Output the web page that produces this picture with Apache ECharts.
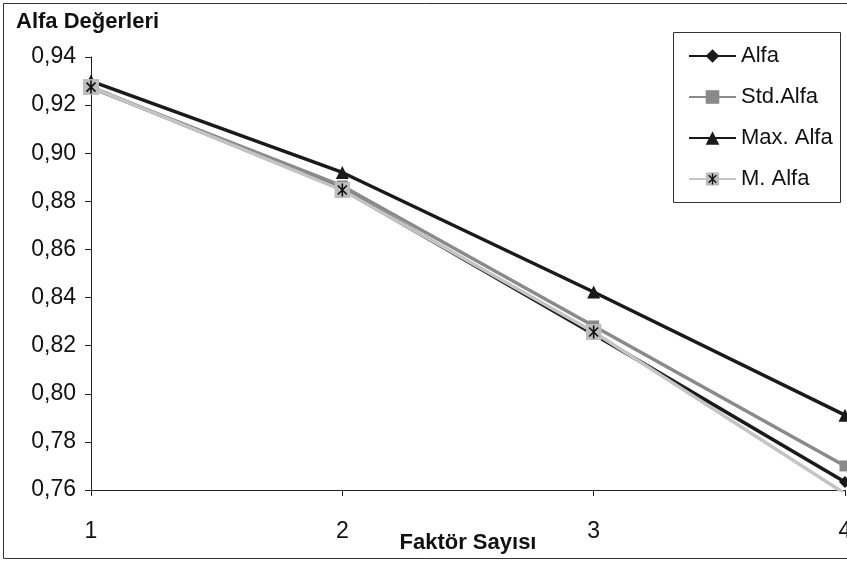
<!DOCTYPE html>
<html>
<head>
<meta charset="utf-8">
<script src="https://cdn.jsdelivr.net/npm/echarts@6/dist/echarts.min.js"></script>
<style>
  html, body { margin: 0; padding: 0; background: #fff; }
  #chart { width: 847px; height: 562px; }
</style>
</head>
<body>
<div id="chart"></div>
<script>
// Number of factors and the reliability values for each method
const factorCounts = ['1', '2', '3', '4'];
const alfa    = [0.9275, 0.8850, 0.8248, 0.7633];
const stdAlfa = [0.9272, 0.8864, 0.8282, 0.7700];
const maxAlfa = [0.9300, 0.8920, 0.8423, 0.7911];
const mAlfa   = [0.9275, 0.8847, 0.8257, 0.7585];
const seriesNames = ['Alfa', 'Std.Alfa', 'Max. Alfa', 'M. Alfa'];

const yMin = 0.76, yMax = 0.94, yStep = 0.02;

const FONT = '"Liberation Sans", Arial, Helvetica, sans-serif';

// Grey square with a black asterisk, used as the M. Alfa marker
const starSvg =
  '<svg xmlns="http://www.w3.org/2000/svg" width="16" height="16" viewBox="0 0 16 16">' +
  '<rect x="0" y="0" width="16" height="16" fill="#bdbdbd"/>' +
  '<path d="M8 1.5 V14.5 M3.5 3.5 L12.5 12.5 M12.5 3.5 L3.5 12.5" stroke="#111" stroke-width="1.6" fill="none"/>' +
  '</svg>';
const starSymbol = 'image://data:image/svg+xml;charset=utf-8,' + encodeURIComponent(starSvg);

const chart = echarts.init(document.getElementById('chart'), null, { renderer: 'canvas' });

function lineSeries(name, data, color, symbol, size, clip) {
  return {
    name: name,
    type: 'line',
    data: data,
    symbol: symbol,
    symbolSize: size,
    showAllSymbol: true,
    clip: clip,
    lineStyle: { color: color, width: 3.5 },
    itemStyle: { color: color },
    emphasis: { disabled: true },
    animation: false
  };
}

chart.setOption({
  backgroundColor: '#fff',
  animation: false,
  textStyle: { fontFamily: FONT },
  grid: { left: 91, top: 57, right: 2, bottom: 72, containLabel: false, outerBoundsMode: 'none' },
  title: {
    text: 'Alfa Değerleri',
    left: 11, top: 6,
    textStyle: { fontFamily: FONT, fontSize: 22, fontWeight: 'bold', color: '#111' }
  },
  legend: {
    orient: 'vertical',
    left: 683, top: 40,
    itemWidth: 47, itemHeight: 17,
    itemGap: 19,
    data: seriesNames,
    textStyle: { fontFamily: FONT, fontSize: 22, color: '#111', padding: [0, 0, 0, 0] }
  },
  xAxis: {
    type: 'category',
    data: factorCounts,
    boundaryGap: false,
    name: 'Faktör Sayısı',
    nameLocation: 'middle',
    nameGap: 42,
    nameMoveOverlap: false,
    nameTextStyle: { fontFamily: FONT, fontSize: 22, fontWeight: 'bold', color: '#111' },
    axisLine: { lineStyle: { color: '#222', width: 1 } },
    axisTick: { alignWithLabel: true, length: 6, lineStyle: { color: '#222' } },
    axisLabel: { fontFamily: FONT, fontSize: 23, color: '#111', margin: 30 },
    splitLine: { show: false }
  },
  yAxis: {
    type: 'value',
    min: yMin, max: yMax, interval: yStep,
    axisLine: { show: true, lineStyle: { color: '#222', width: 1 } },
    axisTick: { show: true, length: 6, lineStyle: { color: '#222' } },
    axisLabel: {
      fontFamily: FONT, fontSize: 23, color: '#111', margin: 15,
      formatter: v => v.toFixed(2).replace('.', ',')
    },
    splitLine: { show: false }
  },
  graphic: [
    {
      type: 'rect', silent: true, z: -1,
      shape: { x: 3.5, y: 3.5, width: 900, height: 555 },
      style: { fill: 'none', stroke: '#333', lineWidth: 1 }
    },
    {
      type: 'rect', silent: true, z: 0,
      shape: { x: 673.5, y: 32.5, width: 167, height: 170 },
      style: { fill: '#fff', stroke: '#333', lineWidth: 1 }
    }
  ],
  series: [
    lineSeries(seriesNames[0], alfa, '#1a1a1a', 'diamond', 12, false),
    lineSeries(seriesNames[1], stdAlfa, '#8a8a8a', 'rect', 11, false),
    lineSeries(seriesNames[2], maxAlfa, '#1a1a1a', 'triangle', 13, false),
    lineSeries(seriesNames[3], mAlfa, '#c4c4c4', starSymbol, 16, true)
  ]
});
</script>
</body>
</html>
